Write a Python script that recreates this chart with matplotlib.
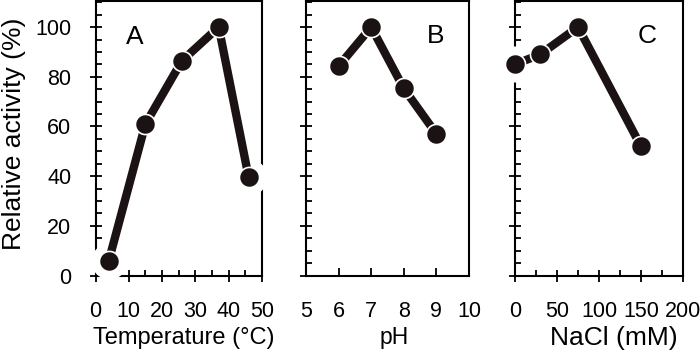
import matplotlib
matplotlib.use('Agg')
import matplotlib.pyplot as plt
from matplotlib.ticker import MultipleLocator, FixedLocator

plt.rcParams['font.family'] = ['Liberation Sans', 'DejaVu Sans']

# Data
temp_x = [4, 15, 26, 37, 46]
temp_y = [6, 61, 86.5, 100, 39.5]
ph_x = [6, 7, 8, 9]
ph_y = [84.3, 100, 75.3, 57]
nacl_x = [0, 30, 75, 150]
nacl_y = [85, 89, 100, 52]

panel_letters = ['A', 'B', 'C']
xlabels = ['Temperature (°C)', 'pH', 'NaCl (mM)']
ylabel = 'Relative activity (%)'
xlims = [(0, 50), (5, 10), (0, 200)]
xmajor = [[0, 10, 20, 30, 40, 50], [5, 6, 7, 8, 9, 10], [0, 50, 100, 150, 200]]
xminor = [[15, 25, 35, 45], [], [25, 75, 125, 175]]
yticks = [0, 20, 40, 60, 80, 100]

W, H = 700, 354
fig = plt.figure(figsize=(W / 100, H / 100), dpi=100)

bottom_px, top_px = 275.5, 1.0
boxes = [(95.5, 262), (306, 469), (515, 683)]
dark = '#1b1313'

datasets = [(temp_x, temp_y), (ph_x, ph_y), (nacl_x, nacl_y)]
letter_pos = [(0.233, 0.869), (0.796, 0.873), (0.784, 0.873)]
xlabel_x = [0.528, 0.54, 0.59]
xlabel_fs = [17, 16.5, 19]
xdir = ['inout', 'in', 'inout']

for i, ((l, r), (xs, ys)) in enumerate(zip(boxes, datasets)):
    ax = fig.add_axes([l / W, 1 - bottom_px / H, (r - l) / W, (bottom_px - top_px) / H])
    ax.set_xlim(*xlims[i])
    ax.set_ylim(0, 110.5)
    for s in ax.spines.values():
        s.set_linewidth(1.5)
        s.set_color('black')
    # white halo around markers (covers axis lines near points)
    ax.plot(xs, ys, 'o', ms=26, color='white', mec='none', clip_on=False, zorder=2.6)
    ax.plot(xs, ys, '-', color=dark, lw=6, clip_on=False, zorder=3, solid_capstyle='butt')
    ax.plot(xs, ys, 'o', ms=14.5, color=dark, mec='white', mew=1.2, clip_on=False, zorder=4)

    ax.xaxis.set_major_locator(FixedLocator(xmajor[i]))
    ax.xaxis.set_minor_locator(FixedLocator(xminor[i]))
    ax.yaxis.set_major_locator(FixedLocator(yticks))
    ax.yaxis.set_minor_locator(MultipleLocator(5))

    xpad = 14.5 if xdir[i] == 'inout' else 18.5
    xlen = 8 if xdir[i] == 'inout' else 5.5
    ax.tick_params(axis='x', which='major', direction=xdir[i], length=xlen, width=1.3,
                   labelsize=15.5, pad=xpad, top=False)
    ax.tick_params(axis='x', which='minor', direction='in', length=4, width=1.3, top=False)
    ax.tick_params(axis='y', which='major', direction='inout', length=9, width=1.3,
                   labelsize=15.5, pad=13, right=False)
    ax.tick_params(axis='y', which='minor', direction='in', length=4, width=1.3, right=False)
    if i > 0:
        ax.tick_params(axis='y', labelleft=False)
    else:
        ax.set_ylabel(ylabel, fontsize=19, va='center')
        ax.yaxis.set_label_coords(-0.49, 0.515)

    ax.set_xlabel(xlabels[i], fontsize=xlabel_fs[i], va='center')
    ax.xaxis.set_label_coords(xlabel_x[i], -0.226)
    ax.text(letter_pos[i][0], letter_pos[i][1], panel_letters[i], transform=ax.transAxes,
            fontsize=19, ha='center', va='center')

fig.savefig('out.png', dpi=100)
